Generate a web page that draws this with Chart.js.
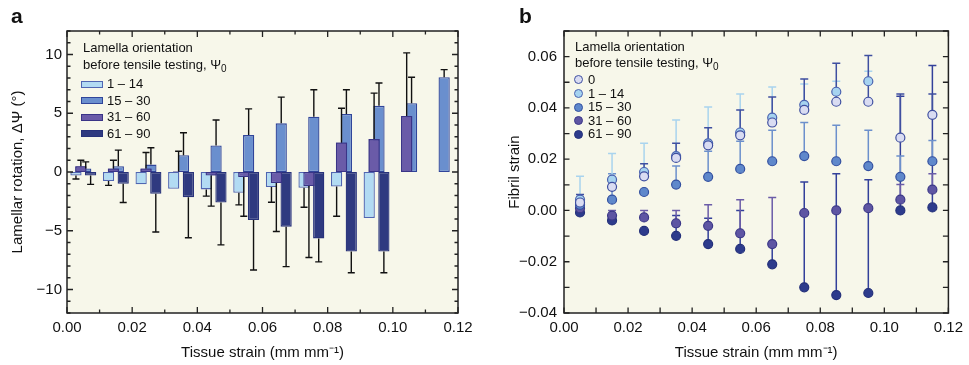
<!DOCTYPE html>
<html>
<head>
<meta charset="utf-8">
<script src="https://cdn.jsdelivr.net/npm/chart.js@4.4.1/dist/chart.umd.min.js"></script>
<style>
  body { margin: 0; background: #fff; font-family: 'Liberation Sans', Arial, sans-serif; color: #111; }
  #wrap { position: relative; width: 969px; height: 365px; overflow: hidden; }
  canvas { position: absolute; top: 0; }
  #ca { left: 0; }
  #cb { left: 484px; }
  .panel { position: absolute; font-weight: bold; font-size: 21px; top: 4px; }
  .leg { position: absolute; font-size: 13px; white-space: nowrap; }
  .leg sub { font-size: 10px; vertical-align: -3px; }
  .sw { position: absolute; width: 20px; height: 5px; border: 1px solid; }
  .dot { position: absolute; width: 7px; height: 7px; border-radius: 50%; border: 1.2px solid; }
</style>
</head>
<body>
<div id="wrap">
  <canvas id="ca" width="484" height="365"></canvas>
  <canvas id="cb" width="485" height="365"></canvas>
  <div class="panel" style="left:11px">a</div>
  <div class="panel" style="left:519px">b</div>
  <div id="legA"></div>
  <div id="legB"></div>
</div>
<script>
// tissue strain bins (centres)
const strain = [0.005, 0.015, 0.025, 0.035, 0.045, 0.055, 0.065, 0.075, 0.085, 0.095, 0.105, 0.115];

// panel a : lamellar rotation (deg), error bar length away from zero
const groupsA = ['1 – 14', '15 – 30', '31 – 60', '61 – 90'];
const rot1to14 = [-0.3, -0.77, -1.05, -1.43, -1.48, -1.77, -1.28, -1.34, -1.23, -3.91, null, null];
const err1to14 = [0.3, 0.37, null, null, 0.57, 1.03, 1.29, 1.66, 2.54, null, null, null];
const rot15to30 = [0.3, 0.5, 0.63, 1.43, 2.26, 3.14, 4.14, 4.71, 4.94, 5.63, 5.86, 8.06];
const err15to30 = [0.56, 1.36, 1.43, 1.91, 2.17, 2.23, 2.23, 2.29, 2.06, 1.94, 2.2, 0.65];
const rot31to60 = [0.5, 0.3, 0.3, 0.05, -0.3, -0.43, -0.93, -1.2, 2.52, 2.8, 4.77, null];
const err31to60 = [0.5, 0.7, 1.36, 1.72, 2.6, 3.34, 4.13, 6.08, 2.91, 3.91, 5.37, null];
const rot61to90 = [-0.3, -1.0, -1.86, -2.14, -2.6, -4.08, -4.65, -5.65, -6.77, -6.77, null, null];
const err61to90 = [0.75, 1.6, 3.24, 3.46, 3.6, 4.26, 3.4, 2.0, 1.8, 1.8, null, null];

// panel b : fibril strain, upper error bar length
const groupsB = ['0', '1 – 14', '15 – 30', '31 – 60', '61 – 90'];
const fib0 = [0.0031, 0.0092, 0.0133, 0.0205, 0.0254, 0.0293, 0.0343, 0.0392, 0.0424, 0.0424, 0.0284, 0.0373];
const fibErr0 = [0.0031, null, 0.0049, 0.0057, 0.0069, 0.0099, 0.01, 0.0121, 0.015, 0.018, 0.017, 0.0081];
const fib1to14 = [0.0042, 0.012, 0.015, 0.0212, 0.0262, 0.0304, 0.0362, 0.0412, 0.0463, 0.0504, null, null];
const fibErr1to14 = [0.0091, 0.0102, 0.0112, 0.0141, 0.0142, 0.015, 0.012, 0.0081, 0.0041, 0.0039, null, null];
const fib15to30 = [0.0022, 0.0042, 0.0072, 0.0101, 0.0131, 0.0162, 0.0192, 0.0212, 0.0192, 0.0173, 0.0131, 0.0192];
const fibErr15to30 = [null, 0.0101, null, 0.0072, 0.01, 0.0108, 0.0121, 0.0131, 0.014, 0.014, 0.0081, 0.0081];
const fib31to60 = [0.0009, -0.002, -0.0027, -0.005, -0.006, -0.0089, -0.0131, -0.001, 0.0, 0.0009, 0.0042, 0.0081];
const fibErr31to60 = [null, 0.002, 0.0027, 0.005, 0.0082, 0.0131, 0.0182, null, null, null, 0.0059, 0.0062];
const fib61to90 = [-0.0008, -0.0039, -0.008, -0.0099, -0.0131, -0.015, -0.021, -0.030, -0.033, -0.0322, 0.0, 0.0012];
const fibErr61to90 = [null, null, null, 0.0079, 0.0101, 0.015, 0.008, 0.0411, 0.0473, 0.0442, 0.0445, 0.0553];

const FONT = "'Liberation Sans', Arial, sans-serif";
const BG = '#f7f7ea';
const AXIS = '#222';

const minus = s => s.replace('-', '\u2212');
const evenHundredth = v => Math.round(v * 100) % 2 === 0;
const fmt2 = v => minus(v.toFixed(2)).replace('\u22120.00', '0.00');

function toPoints(vals, errs) {
  return strain.map((x, i) => ({x: x, y: vals[i], e: errs[i]})).filter(p => p.y !== null);
}

// cream plot area, frame and inward ticks on all four sides
function framePlugin(xMajor, yMajor, majLen, minLen) {
  return {
    id: 'frame',
    beforeDraw(chart) {
      const a = chart.chartArea, ctx = chart.ctx;
      ctx.save();
      ctx.fillStyle = BG;
      ctx.fillRect(a.left, a.top, a.right - a.left, a.bottom - a.top);
      ctx.restore();
    },
    afterDraw(chart) {
      const a = chart.chartArea, ctx = chart.ctx;
      const xs = chart.scales.x, ys = chart.scales.y;
      ctx.save();
      ctx.strokeStyle = AXIS;
      ctx.lineWidth = 1.5;
      ctx.strokeRect(a.left, a.top, a.right - a.left, a.bottom - a.top);
      ctx.lineWidth = 1.3;
      ctx.beginPath();
      xs.ticks.forEach(t => {
        const px = xs.getPixelForValue(t.value);
        const l = xMajor(t.value) ? majLen : minLen;
        ctx.moveTo(px, a.bottom); ctx.lineTo(px, a.bottom - l);
        ctx.moveTo(px, a.top); ctx.lineTo(px, a.top + l);
      });
      ys.ticks.forEach(t => {
        const py = ys.getPixelForValue(t.value);
        const l = yMajor(t.value) ? majLen : minLen;
        ctx.moveTo(a.left, py); ctx.lineTo(a.left + l, py);
        ctx.moveTo(a.right, py); ctx.lineTo(a.right - l, py);
      });
      ctx.stroke();
      ctx.restore();
    }
  };
}

// ---------- panel a ----------
const colA = [
  {fill: '#b2dbf3', line: '#5066b2'},
  {fill: '#6a8fce', line: '#30459a'},
  {fill: '#6a5ba8', line: '#3a3487'},
  {fill: '#2f3a80', line: '#28327a'}
];
const rotSets = [[rot1to14, err1to14], [rot31to60, err31to60], [rot15to30, err15to30], [rot61to90, err61to90]];
const rotNames = [groupsA[0], groupsA[2], groupsA[1], groupsA[3]];
const rotCols = [colA[0], colA[2], colA[1], colA[3]];

const barErrors = {
  id: 'barErrors',
  afterDatasetsDraw(chart) {
    // purple group sits on top of its neighbours in the original
    chart.getDatasetMeta(1).controller.draw();
    const ctx = chart.ctx, ys = chart.scales.y;
    ctx.save();
    ctx.strokeStyle = '#111';
    ctx.lineWidth = 1.4;
    chart.data.datasets.forEach((ds, di) => {
      const meta = chart.getDatasetMeta(di);
      ds.data.forEach((p, i) => {
        if (p.e === null) return;
        const bar = meta.data[i];
        const end = ys.getPixelForValue(p.y + (p.y >= 0 ? p.e : -p.e));
        ctx.beginPath();
        ctx.moveTo(bar.x, bar.y); ctx.lineTo(bar.x, end);
        ctx.moveTo(bar.x - 3.5, end); ctx.lineTo(bar.x + 3.5, end);
        ctx.stroke();
      });
    });
    ctx.restore();
  }
};

new Chart(document.getElementById('ca'), {
  type: 'bar',
  data: {
    datasets: rotSets.map((s, k) => ({
      label: rotNames[k],
      data: toPoints(s[0], s[1]),
      backgroundColor: rotCols[k].fill,
      borderColor: rotCols[k].line,
      borderWidth: 1.3,
      borderSkipped: false,
      categoryPercentage: 0.6,
      barPercentage: 2.3
    }))
  },
  options: {
    responsive: false,
    animation: false,
    events: [],
    layout: {padding: {top: 31, right: 26, left: 0, bottom: 0}},
    plugins: {legend: {display: false}, tooltip: {enabled: false}},
    scales: {
      x: {
        type: 'linear', min: 0, max: 0.12, offset: false,
        grid: {display: false, drawTicks: false}, border: {display: false},
        ticks: {stepSize: 0.01, autoSkip: false, maxRotation: 0, padding: 6, color: '#111',
          font: {family: FONT, size: 15}, callback: v => evenHundredth(v) ? fmt2(v) : ''},
        title: {display: true, text: 'Tissue strain (mm mm\u207B\u00B9)', color: '#111',
          font: {family: FONT, size: 15}, padding: {bottom: 3}},
        afterFit: s => { s.height = 52; }
      },
      y: {
        min: -12, max: 12,
        grid: {display: false, drawTicks: false}, border: {display: false},
        ticks: {stepSize: 1, autoSkip: false, padding: 5, color: '#111',
          font: {family: FONT, size: 15}, callback: v => v % 5 === 0 ? minus(String(v)) : ''},
        title: {display: true, text: 'Lamellar rotation, \u0394\u03A8 (\u00B0)', color: '#111',
          font: {family: FONT, size: 15}, padding: {top: 9}},
        afterFit: s => { s.width = 67; }
      }
    }
  },
  plugins: [framePlugin(v => evenHundredth(v), v => v % 5 === 0, 6, 3.5), barErrors]
});

// ---------- panel b ----------
const colB = [
  {fill: '#d9dcf2', line: '#3f4fa0', err: '#3f4fa0'},
  {fill: '#a6d3f0', line: '#4a62b0', err: '#a9d4ee'},
  {fill: '#5f88cb', line: '#3350a0', err: '#6c90cc'},
  {fill: '#5e55a3', line: '#3c3888', err: '#6b5ca8'},
  {fill: '#2d3b8c', line: '#24307a', err: '#33409a'}
];
const fibSets = [[fib0, fibErr0], [fib1to14, fibErr1to14], [fib15to30, fibErr15to30],
  [fib31to60, fibErr31to60], [fib61to90, fibErr61to90]];

const pointErrors = {
  id: 'pointErrors',
  beforeDatasetsDraw(chart) {
    const ctx = chart.ctx, ys = chart.scales.y;
    ctx.save();
    ctx.lineWidth = 1.5;
    // last series first so lighter bars end up on top, as in the figure
    for (let di = chart.data.datasets.length - 1; di >= 0; di--) {
      const ds = chart.data.datasets[di];
      const meta = chart.getDatasetMeta(di);
      ctx.strokeStyle = colB[di].err;
      ds.data.forEach((p, i) => {
        if (p.e === null) return;
        const pt = meta.data[i];
        const end = ys.getPixelForValue(p.y + p.e);
        ctx.beginPath();
        ctx.moveTo(pt.x, pt.y); ctx.lineTo(pt.x, end);
        ctx.moveTo(pt.x - 4, end); ctx.lineTo(pt.x + 4, end);
        ctx.stroke();
      });
    }
    ctx.restore();
  }
};

new Chart(document.getElementById('cb'), {
  type: 'scatter',
  data: {
    datasets: fibSets.map((s, k) => ({
      label: groupsB[k],
      data: toPoints(s[0], s[1]),
      pointRadius: 4.5,
      pointBackgroundColor: colB[k].fill,
      pointBorderColor: colB[k].line,
      pointBorderWidth: 1.2
    }))
  },
  options: {
    responsive: false,
    animation: false,
    events: [],
    layout: {padding: {top: 31, right: 14, left: 0, bottom: 0}},
    plugins: {legend: {display: false}, tooltip: {enabled: false}},
    scales: {
      x: {
        type: 'linear', min: 0, max: 0.12,
        grid: {display: false, drawTicks: false}, border: {display: false},
        ticks: {stepSize: 0.01, autoSkip: false, maxRotation: 0, padding: 6, color: '#111',
          font: {family: FONT, size: 15}, callback: v => evenHundredth(v) ? fmt2(v) : ''},
        title: {display: true, text: 'Tissue strain (mm mm\u207B\u00B9)', color: '#111',
          font: {family: FONT, size: 15}, padding: {bottom: 3}},
        afterFit: s => { s.height = 52; }
      },
      y: {
        min: -0.04, max: 0.07,
        grid: {display: false, drawTicks: false}, border: {display: false},
        ticks: {stepSize: 0.01, autoSkip: false, padding: 7, color: '#111',
          font: {family: FONT, size: 15}, callback: v => evenHundredth(v) ? fmt2(v) : ''},
        title: {display: true, text: 'Fibril strain', color: '#111',
          font: {family: FONT, size: 15}, padding: {top: 22}},
        afterFit: s => { s.width = 80; }
      }
    }
  },
  plugins: [framePlugin(() => true, () => true, 5.5, 5.5), pointErrors]
});

// ---------- legends ----------
function legendTitle(el, left, top, gap) {
  el.innerHTML += '<div class="leg" style="left:' + left + 'px;top:' + top + 'px">Lamella orientation</div>' +
    '<div class="leg" style="left:' + left + 'px;top:' + (top + gap) + 'px">before tensile testing, \u03A8<sub>0</sub></div>';
}
const legA = document.getElementById('legA');
legendTitle(legA, 83, 40, 17);
groupsA.forEach((g, i) => {
  const y = 84 + i * 16.5;
  legA.innerHTML += '<div class="sw" style="left:81px;top:' + (y - 3.5) + 'px;background:' + colA[i].fill +
    ';border-color:' + colA[i].line + '"></div>' +
    '<div class="leg" style="left:107px;top:' + (y - 8) + 'px">' + g + '</div>';
});
const legB = document.getElementById('legB');
legendTitle(legB, 575, 39, 16);
groupsB.forEach((g, i) => {
  const y = 80 + i * 13.6;
  legB.innerHTML += '<div class="dot" style="left:573.5px;top:' + (y - 4.7) + 'px;background:' + colB[i].fill +
    ';border-color:' + colB[i].line + '"></div>' +
    '<div class="leg" style="left:588px;top:' + (y - 8) + 'px">' + g + '</div>';
});
</script>
</body>
</html>
